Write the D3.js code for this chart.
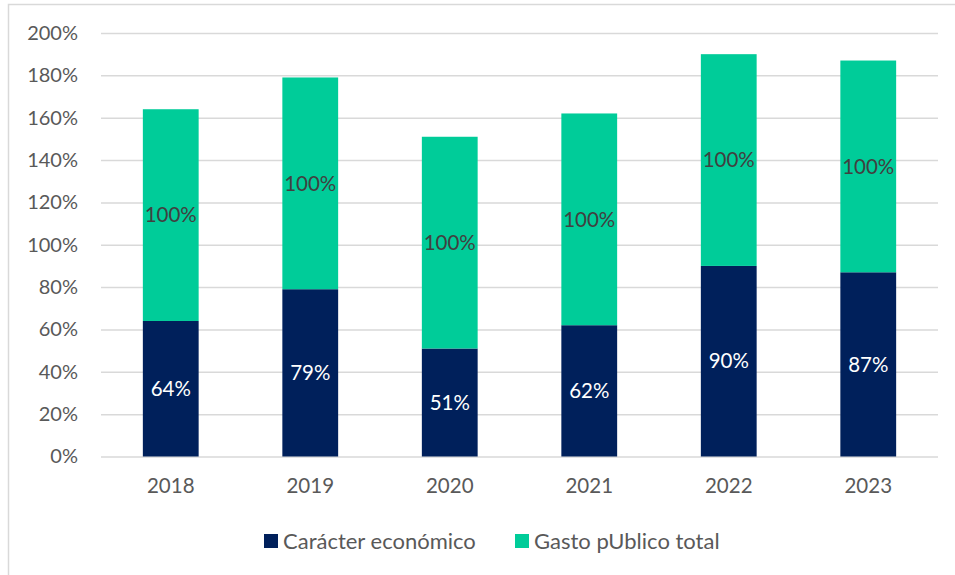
<!DOCTYPE html>
<html><head><meta charset="utf-8">
<script src="https://cdn.jsdelivr.net/npm/d3@7"></script>
<style>body{margin:0;background:#fff}svg{display:block}text{font-family:Lato,"Open Sans",sans-serif}</style>
</head><body><svg id="c" width="955" height="575"></svg>
<script>
const years = ["2018","2019","2020","2021","2022","2023"];
const caracterEconomico = [64,79,51,62,90,87];
const gastoPublicoTotal = [100,100,100,100,100,100];
const yTicks = [0,20,40,60,80,100,120,140,160,180,200];
const seriesNames = ["Carácter económico","Gasto pUblico total"];
const colors = ["#00205b","#00cc99"];

(function(){
const svg = d3.select("#c");
svg.append("rect").attr("x",8.5).attr("y",4.5).attr("width",960).attr("height",600)
  .attr("fill","#fff").attr("stroke","#d9d9d9").attr("stroke-width",1.5);

const pl=101, pr=938, pt=33, pb=456.5;
const x = d3.scaleBand().domain(years).range([pl,pr]).paddingInner(0.6).paddingOuter(0.3);
const y = d3.scaleLinear().domain([0,200]).range([pb,pt]);

const ga = svg.append("g").attr("transform",`translate(${pl},0)`)
  .call(d3.axisLeft(y).tickValues(yTicks).tickFormat(d=>d+"%").tickSize(-(pr-pl)).tickPadding(23));
ga.select(".domain").remove();
ga.selectAll("line").attr("stroke","#d9d9d9").attr("stroke-width",1.5);
ga.selectAll("text").attr("fill","#595959").style("font-size","20px").style("font-family","Lato");

const gx = svg.append("g").attr("transform",`translate(0,${pb})`)
  .call(d3.axisBottom(x).tickSize(0).tickPadding(22));
gx.select(".domain").remove();
gx.selectAll("text").attr("fill","#595959").style("font-size","20.5px").style("font-family","Lato");

const data = years.map((yr,i)=>({year:yr, a:caracterEconomico[i], b:gastoPublicoTotal[i]}));
const stack = d3.stack().keys(["a","b"])(data);

stack.forEach((s,si)=>{
  const g = svg.append("g");
  g.selectAll("rect").data(s).join("rect")
    .attr("x",d=>x(d.data.year)).attr("width",x.bandwidth())
    .attr("y",d=>y(d[1])).attr("height",d=>y(d[0])-y(d[1]))
    .attr("fill",colors[si]);
  g.selectAll("text").data(s).join("text")
    .attr("x",d=>x(d.data.year)+x.bandwidth()/2)
    .attr("y",d=>(y(d[0])+y(d[1]))/2)
    .attr("dy","0.35em").attr("text-anchor","middle")
    .attr("fill",si===0?"#ffffff":"#404040")
    .style("font-size","20.5px")
    .text(d=>(d[1]-d[0])+"%");
});

const legend = svg.append("g");
const items = [{x:264,label:seriesNames[0],c:colors[0]},{x:515,label:seriesNames[1],c:colors[1]}];
items.forEach(it=>{
  legend.append("rect").attr("x",it.x).attr("y",534).attr("width",14).attr("height",14).attr("fill",it.c);
  legend.append("text").attr("x",it.x+19).attr("y",541).attr("dy","0.36em")
    .attr("fill","#595959").style("font-size","22px").text(it.label);
});
})();
</script></body></html>
